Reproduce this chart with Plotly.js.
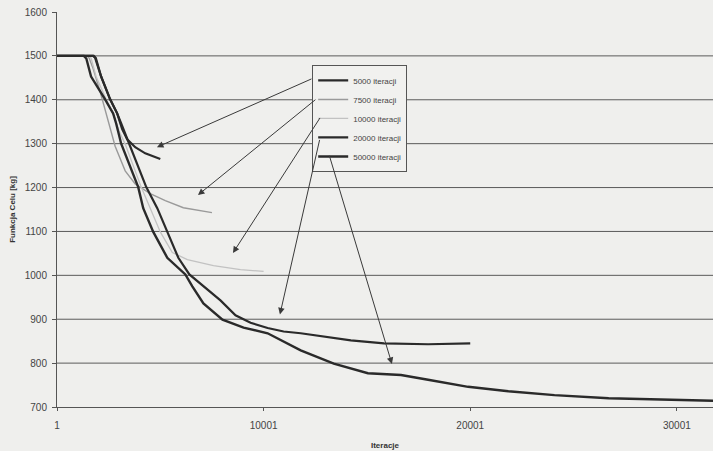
<!DOCTYPE html>
<html>
<head>
<meta charset="utf-8">
<script src="https://cdn.plot.ly/plotly-3.0.1.min.js"></script>
<style>html,body{margin:0;padding:0;background:#efefed;}#chart{width:713px;height:451px;}</style>
</head>
<body>
<div id="chart"></div>
<script>
// Series names
const seriesNames = ["5000 iteracji", "7500 iteracji", "10000 iteracji", "20000 iteracji", "50000 iteracji"];

// 5000 iterations
const x5000 = [1, 1750, 1844, 2136, 2573, 2912, 3155, 3398, 3786, 4272, 5000];
const y5000 = [1500, 1500, 1496, 1453, 1401, 1369, 1333, 1310, 1292, 1278, 1265];

// 7500 iterations
const x7500 = [1, 1450, 1550, 1747, 2087, 2476, 2815, 3301, 3786, 4514, 5242, 6116, 6941, 7501];
const y7500 = [1500, 1500, 1496, 1471, 1419, 1351, 1294, 1238, 1208, 1186, 1170, 1154, 1148, 1143];

// 10000 iterations
const x10000 = [1, 1550, 1650, 1893, 2378, 2767, 3010, 3301, 4077, 4514, 5000, 5582, 6310, 7572, 8883, 10001];
const y10000 = [1500, 1500, 1495, 1453, 1401, 1362, 1328, 1299, 1201, 1153, 1099, 1052, 1036, 1022, 1013, 1009];

// 20000 iterations
const x20000 = [1, 1780, 1880, 2136, 2573, 2912, 3107, 3495, 4320, 4854, 5340, 5873, 6407, 6941, 7912, 8640, 9368, 10195, 10970, 11795, 13397, 14222, 15824, 17960, 20001];
const y20000 = [1500, 1500, 1495, 1453, 1401, 1369, 1346, 1300, 1201, 1153, 1099, 1040, 1002, 981, 943, 909, 892, 880, 872, 868, 857, 852, 845, 843, 845];

// 50000 iterations (visible part)
const x50000 = [1, 1300, 1420, 1650, 2330, 2718, 2864, 3107, 3932, 4174, 4660, 5339, 6213, 6550, 7087, 8010, 9030, 10195, 11795, 13397, 15048, 16650, 17960, 19900, 21845, 24075, 26700, 28300, 31840, 33000];
const y50000 = [1500, 1500, 1494, 1453, 1401, 1369, 1346, 1300, 1201, 1153, 1099, 1040, 1002, 975, 936, 899, 881, 868, 829, 799, 777, 773, 762, 746, 736, 727, 720, 718, 714, 713];

// Axis ticks
const xTickVals = [1, 10001, 20001, 30001];
const xTickText = ["1", "10001", "20001", "30001"];
const yTickVals = [700, 800, 900, 1000, 1100, 1200, 1300, 1400, 1500, 1600];
const gridVals = [800, 900, 1000, 1100, 1200, 1300, 1400, 1500];

// Arrow tails (near legend) and tips (near curves), data units
const arrowTailX = [12388, 12581, 12775, 12727, 13162];
const arrowTailY = [1449, 1403, 1362, 1312, 1276];
const arrowTipX = [4839, 6823, 8517, 10791, 16211];
const arrowTipY = [1292, 1183, 1051, 911, 798];

const dark = "#2a2a2a";
const xs = [x5000, x7500, x10000, x20000, x50000];
const ys = [y5000, y7500, y10000, y20000, y50000];
const colors = [dark, "#9a9a9a", "#c2c2c2", dark, dark];
const widths = [2.2, 1.4, 1.3, 2.2, 2.4];

const traces = seriesNames.map((n, i) => ({
  type: "scatter", mode: "lines", name: n,
  x: xs[i], y: ys[i],
  line: {color: colors[i], width: widths[i], shape: "linear"}
}));

const shapes = gridVals.map(v => ({
  type: "line", xref: "paper", x0: 0, x1: 1, yref: "y", y0: v, y1: v,
  line: {color: "#5a5a5a", width: 1}, layer: "below"
}));

const annotations = arrowTipX.map((tx, i) => ({
  x: tx, y: arrowTipY[i], xref: "x", yref: "y",
  ax: arrowTailX[i], ay: arrowTailY[i], axref: "x", ayref: "y",
  text: "", showarrow: true, arrowhead: 2, arrowsize: 1.3, arrowwidth: 1,
  arrowcolor: "#3a3a3a"
}));

const layout = {
  width: 713, height: 451,
  margin: {l: 57, r: 0, t: 12, b: 44},
  paper_bgcolor: "#efefed", plot_bgcolor: "#efefed",
  font: {family: "Liberation Sans, Arial, sans-serif", color: "#444"},
  showlegend: true,
  legend: {
    x: 0.389, y: 0.866, xanchor: "left", yanchor: "top",
    bgcolor: "#f1f1ef", bordercolor: "#555", borderwidth: 1,
    font: {size: 8, color: "#444"},
    itemwidth: 30
  },
  xaxis: {
    range: [1, 31750], tickvals: xTickVals, ticktext: xTickText,
    showgrid: false, zeroline: false, showline: true, linecolor: "#555", linewidth: 1,
    ticks: "outside", ticklen: 3, tickcolor: "#555", ticklabelstandoff: 6,
    tickfont: {size: 10, color: "#444"},
    title: {text: "Iteracje", font: {size: 8, color: "#333", weight: "bold"}, standoff: 12}
  },
  yaxis: {
    range: [700, 1600], tickvals: yTickVals,
    showgrid: false, zeroline: false, showline: true, linecolor: "#555", linewidth: 1,
    ticks: "outside", ticklen: 4, tickcolor: "#555", ticklabelstandoff: 3,
    tickfont: {size: 10, color: "#444"},
    title: {text: "Funkcja Celu [kg]", font: {size: 8, color: "#333", weight: "bold"}, standoff: 7}
  },
  shapes: shapes,
  annotations: annotations
};

Plotly.newPlot("chart", traces, layout, {staticPlot: true, displayModeBar: false});
</script>
</body>
</html>
